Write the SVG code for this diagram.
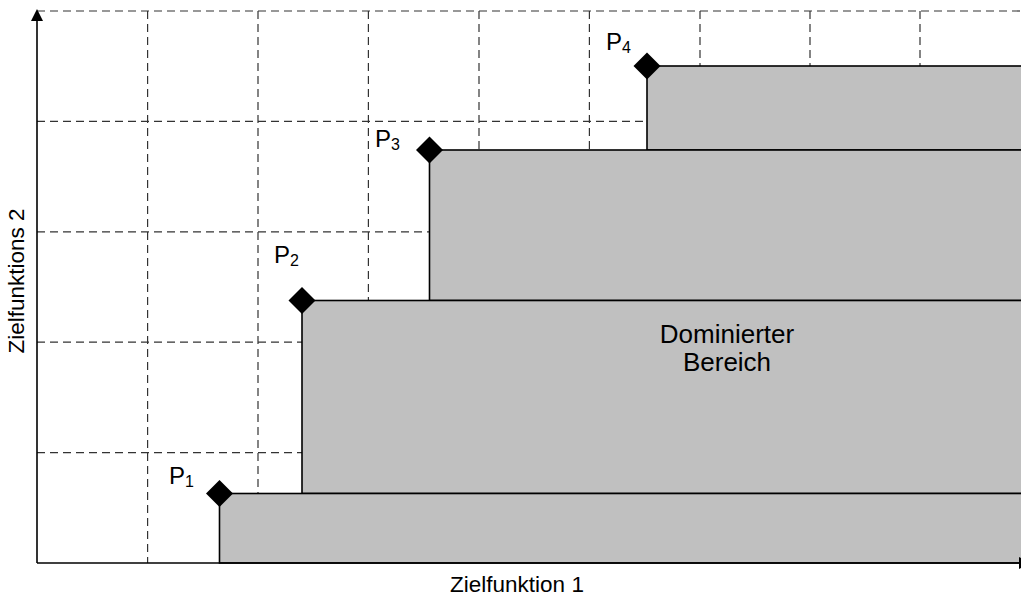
<svg xmlns="http://www.w3.org/2000/svg" width="1021" height="597" viewBox="0 0 1021 597">
<style>
.grid{stroke:#333;stroke-width:1.2;stroke-dasharray:8 5;fill:none}
.area{fill:#c0c0c0;stroke:#000;stroke-width:1.6}
.axis{stroke:#000;stroke-width:1.6;fill:none}
.pt{fill:#000}
.t{font-family:"Liberation Sans",Arial,sans-serif;fill:#000}
.p{font-size:24px}
.sub{font-size:16px}
</style>
<rect width="1021" height="597" fill="#fff"/>
<g id="grid">
<line class="grid" x1="37" y1="11" x2="1021" y2="11"/>
<line class="grid" x1="37" y1="121.4" x2="1021" y2="121.4"/>
<line class="grid" x1="37" y1="231.8" x2="1021" y2="231.8"/>
<line class="grid" x1="37" y1="342.2" x2="1021" y2="342.2"/>
<line class="grid" x1="37" y1="452.6" x2="1021" y2="452.6"/>
<line class="grid" x1="147.6" y1="11" x2="147.6" y2="563"/>
<line class="grid" x1="258" y1="11" x2="258" y2="563"/>
<line class="grid" x1="368.4" y1="11" x2="368.4" y2="563"/>
<line class="grid" x1="479" y1="11" x2="479" y2="563"/>
<line class="grid" x1="589.4" y1="11" x2="589.4" y2="563"/>
<line class="grid" x1="700" y1="11" x2="700" y2="563"/>
<line class="grid" x1="810" y1="11" x2="810" y2="563"/>
<line class="grid" x1="920" y1="11" x2="920" y2="563"/>
</g>
<g id="areas">
<rect class="area" x="647" y="66" width="380" height="84"/>
<rect class="area" x="429.5" y="150" width="600" height="150.5"/>
<rect class="area" x="302" y="300.5" width="730" height="193"/>
<rect class="area" x="219.5" y="493.5" width="810" height="69.5"/>
</g>
<g id="axes">
<line class="axis" x1="37" y1="563" x2="37" y2="20"/>
<polygon points="37,9 31,21 43,21" fill="#000"/>
<line class="axis" x1="37" y1="563" x2="1021" y2="563"/>
<polygon points="1031,563 1019,557 1019,569" fill="#000"/>
</g>
<g id="P1">
<polygon class="pt" points="219.5,480 233,493.5 219.5,507 206,493.5"/>
<text class="t" x="169" y="484"><tspan class="p">P</tspan><tspan class="sub" dy="3">1</tspan></text>
</g>
<g id="P2">
<polygon class="pt" points="302,287 315.5,300.5 302,314 288.5,300.5"/>
<text class="t" x="274" y="263"><tspan class="p">P</tspan><tspan class="sub" dy="3">2</tspan></text>
</g>
<g id="P3">
<polygon class="pt" points="429.5,136.5 443,150 429.5,163.5 416,150"/>
<text class="t" x="375" y="147"><tspan class="p">P</tspan><tspan class="sub" dy="3">3</tspan></text>
</g>
<g id="P4">
<polygon class="pt" points="647,52.5 660.5,66 647,79.5 633.5,66"/>
<text class="t" x="606" y="50"><tspan class="p">P</tspan><tspan class="sub" dy="3">4</tspan></text>
</g>
<g id="label-area">
<text class="t" x="727" y="343" font-size="26" text-anchor="middle">Dominierter</text>
<text class="t" x="727" y="371" font-size="26" text-anchor="middle">Bereich</text>
</g>
<g id="axis-labels">
<text class="t" x="517" y="592" font-size="22.5" text-anchor="middle">Zielfunktion 1</text>
<text class="t" transform="translate(24,281) rotate(-90)" font-size="22.5" text-anchor="middle">Zielfunktions 2</text>
</g>
</svg>
